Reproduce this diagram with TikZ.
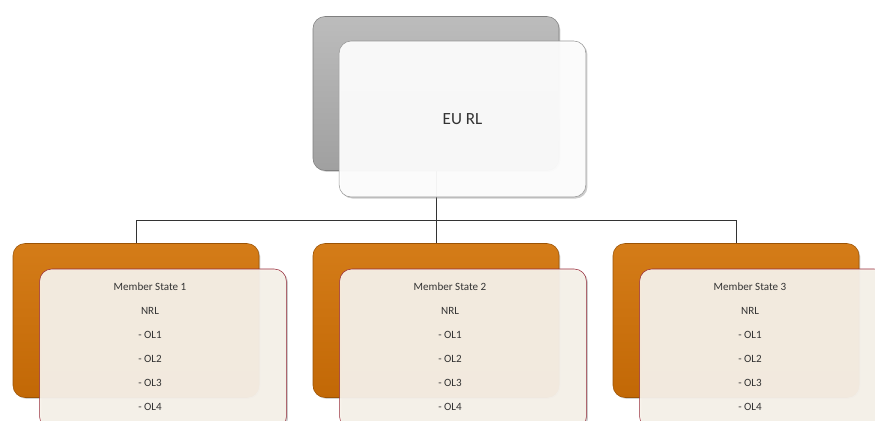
\documentclass[tikz,border=0pt]{standalone}
\usepackage{fontspec}
\setmainfont{Carlito}
\usepackage{tikz}
\usetikzlibrary{
    positioning,
    calc,
    shadows,
    backgrounds
}
\definecolor{euGray}{RGB}{160, 160, 160}
\definecolor{euGrayTop}{RGB}{188, 188, 188}
\definecolor{msOrange}{RGB}{194, 104, 6}
\definecolor{msOrangeTop}{RGB}{212, 124, 24}
\definecolor{msCream}{RGB}{248, 243, 235}
\definecolor{msRed}{RGB}{150, 40, 55}
\definecolor{euEdge}{RGB}{150, 150, 150}

\begin{document}
\begin{tikzpicture}[x=0.75pt, y=-0.75pt,
    backbox/.style={rounded corners=9pt, minimum width=184.5pt, minimum height=115.5pt,
        inner sep=0pt, drop shadow={opacity=0.35, shadow xshift=1pt, shadow yshift=-1pt}},
    eubackbox/.style={backbox, top color=euGrayTop, bottom color=euGray, draw=euGray!80!black, thin},
    msbackbox/.style={backbox, top color=msOrangeTop, bottom color=msOrange, draw=msOrange!80!black, thin},
    frontbox/.style={rounded corners=9pt, minimum width=185pt, minimum height=117pt, inner sep=0pt,
        fill opacity=0.93, drop shadow={opacity=0.4, shadow xshift=1.2pt, shadow yshift=-1.2pt}},
    eufrontbox/.style={frontbox, fill=white, draw=euEdge},
    msfrontbox/.style={frontbox, fill=msCream, draw=msRed, minimum height=120pt},
    mstext/.style={align=center, font=\fontsize{8.3}{18}\selectfont, text=black!80},
    link/.style={draw=black!80, line width=0.6pt}
]
    \useasboundingbox (0,0) rectangle (875,421);
    \clip (0,0) rectangle (875,421);

    % top
    \node[eubackbox] (eub) at (436,93.5) {};
    \node[eufrontbox] (euf) at (462.5,119) {};
    \node[font=\fontsize{12.8}{15}\selectfont, text=black!80] (eut) at (euf.center) {EU RL};

    % member states
    \foreach \i/\x in {1/136, 2/436, 3/736} {
        \node[msbackbox] (msb\i) at (\x,320.5) {};
        \node[msfrontbox] (msf\i) at (\x+27,349) {};
        \node[mstext] (mst\i) at (\x+14,347)
            {Member State \i\\NRL\\- OL1\\- OL2\\- OL3\\- OL4};
    }

    % connectors
    \begin{scope}[on background layer]
        \coordinate (hub) at (eub.south |- 0,220);
        \draw[link] (eub.south) -- (hub);
        \draw[link] (msb1.north |- hub) -- (msb3.north |- hub);
        \foreach \i in {1,2,3}
            \draw[link] (msb\i.north |- hub) -- (msb\i.north);
    \end{scope}
\end{tikzpicture}
\end{document}
